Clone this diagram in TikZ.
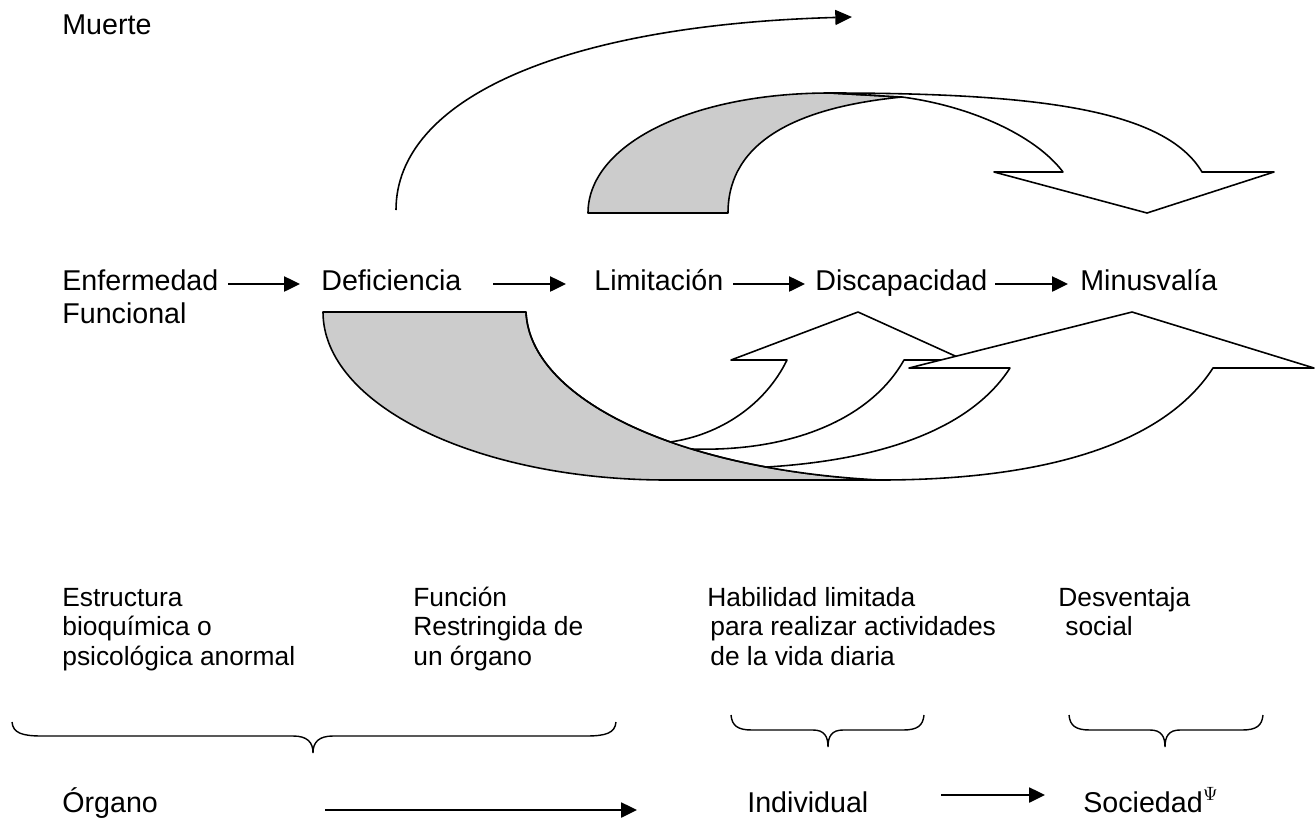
\documentclass[tikz,border=0pt]{standalone}
\usepackage{fontspec}
\setmainfont{Liberation Sans}
\usetikzlibrary{arrows.meta}
\definecolor{shade}{RGB}{204,204,204}
\newcommand{\desclines}[1]{\begin{tabular}[t]{@{}l@{}}#1\end{tabular}}
\begin{document}
\begin{tikzpicture}[x=0.02cm,y=-0.02cm,
  edge/.style={line width=0.9pt, line join=round},
  bracepath/.style={line width=0.8pt},
  conn/.style={line width=1.2pt, -{Triangle[length=9pt,width=8.5pt]}},
  big/.style={font=\fontsize{16.3}{19}\selectfont, inner sep=0pt, anchor=base west},
  small/.style={font=\fontsize{15}{17}\selectfont, inner sep=0pt, anchor=base west}]
\useasboundingbox (0,0) rectangle (1315,822);

% --- top labels
\node[big] (muerte) at (62,34) {Muerte};

% --- arc to Muerte
\coordinate (arcS) at (396,210);
\coordinate (arcE) at (852,17);
\draw[edge, -{Triangle[length=9.5pt,width=8.5pt]}] (arcS) .. controls (396,100) and (560,25) .. (arcE);

% --- top curved block arrow
\filldraw[edge, fill=shade] (588,213) .. controls (588,145) and (690,93) .. (830,93) -- (902,97) .. controls (800,107) and (728,140) .. (728,213) -- cycle;
\filldraw[edge, fill=white] (830,93) .. controls (1040,93) and (1165,110) .. (1202,172) -- (1274,172) -- (1147,213) -- (994,172) -- (1063,172) .. controls (1035,135) and (970,106) .. (902,97) -- cycle;

% --- bottom curved block arrows
\filldraw[edge, fill=shade] (323,312) -- (526,312) .. controls (530,400) and (680,470) .. (880,480) -- (667,480) .. controls (477,480) and (323,405) .. (323,312) -- cycle;
\fill[white] (670,442) .. controls (720,435) and (765,405) .. (787,360) -- (731,360) -- (858,312) -- (964,360) -- (904,360) .. controls (870,420) and (790,452) .. (692,449) -- cycle;
\draw[edge] (670,442) .. controls (720,435) and (765,405) .. (787,360) -- (731,360) -- (858,312) -- (964,360) -- (904,360) .. controls (870,420) and (790,452) .. (692,449);
\fill[white] (767,467) .. controls (880,460) and (970,430) .. (1010,368) -- (909,368) -- (1132,312) -- (1314,368) -- (1213,368) .. controls (1160,450) and (1030,480) .. (880,480) .. controls (840,478) and (802,473.6) .. (767,467) -- cycle;
\draw[edge] (767,467) .. controls (880,460) and (970,430) .. (1010,368) -- (909,368) -- (1132,312) -- (1314,368) -- (1213,368) .. controls (1160,450) and (1030,480) .. (880,480);
\draw[edge] (526,312) .. controls (530,400) and (680,470) .. (880,480);

% --- main row
\node[big] (enf) at (62,290) {\begin{tabular}[t]{@{}l@{}}Enfermedad\\Funcional\end{tabular}};
\node[big] (def) at (321,290) {Deficiencia};
\node[big] (lim) at (594,290) {Limitación};
\node[big] (dis) at (815,290) {Discapacidad};
\node[big] (min) at (1080,290) {Minusvalía};
\coordinate (a1s) at (228,284); \coordinate (a1e) at (300,284);
\coordinate (a2s) at (493,284); \coordinate (a2e) at (566,284);
\coordinate (a3s) at (733,284); \coordinate (a3e) at (805,284);
\coordinate (a4s) at (995,284); \coordinate (a4e) at (1068,284);
\draw[conn] (a1s) -- (a1e);
\draw[conn] (a2s) -- (a2e);
\draw[conn] (a3s) -- (a3e);
\draw[conn] (a4s) -- (a4e);

% --- descriptions
\node[small] (estr) at (62,606) {\desclines{Estructura\\bioquímica o\\psicológica anormal}};
\node[small] (func) at (413,606) {\desclines{Función\\Restringida de\\un órgano}};
\node[small] (habil) at (707,606) {\desclines{Habilidad limitada\\\hspace{1.7pt}para realizar actividades\\\hspace{1.7pt}de la vida diaria}};
\node[small] (desv) at (1058,606) {\desclines{Desventaja\\\hspace{4pt}social}};

% --- braces
\draw[bracepath] (12,722) .. controls (13,733) and (22,736) .. (42,736) -- (293,736) .. controls (307,736) and (313,742) .. (313,753) .. controls (313,742) and (319,736) .. (333,736) -- (586,736) .. controls (606,736) and (615,733) .. (616,722);
\draw[bracepath] (731,715) .. controls (732,726) and (738,730) .. (752,730) -- (813,730) .. controls (824,730) and (828,736) .. (828,747) .. controls (828,736) and (832,730) .. (843,730) -- (903,730) .. controls (917,730) and (923,726) .. (924,715);
\draw[bracepath] (1069,715) .. controls (1070,726) and (1076,730) .. (1090,730) -- (1150,730) .. controls (1161,730) and (1165,736) .. (1165,747) .. controls (1165,736) and (1169,730) .. (1180,730) -- (1242,730) .. controls (1256,730) and (1262,726) .. (1263,715);

% --- bottom row
\node[big] (organo) at (62,812) {Órgano};
\node[big] (indiv) at (747,812) {Individual};
\node[big] (soc) at (1083,812) {Sociedad$^{\Psi}$};
\coordinate (b1s) at (325,810); \coordinate (b1e) at (637,810);
\coordinate (b2s) at (941,795); \coordinate (b2e) at (1045,795);
\draw[conn] (b1s) -- (b1e);
\draw[conn] (b2s) -- (b2e);
\end{tikzpicture}
\end{document}
